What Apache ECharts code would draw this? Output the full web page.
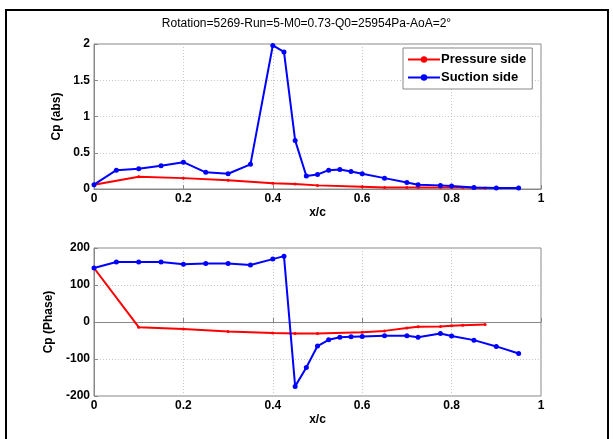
<!DOCTYPE html>
<html>
<head>
<meta charset="utf-8">
<script src="https://cdn.jsdelivr.net/npm/echarts@6/dist/echarts.min.js"></script>
<style>
  html, body { margin: 0; padding: 0; background: #fff; }
  #frame { position: absolute; left: 5px; top: 9px; width: 604px; height: 440px; border: 2px solid #000; border-bottom: none; box-sizing: border-box; }
  #chart { position: absolute; left: 0; top: 0; width: 613px; height: 439px; }
</style>
</head>
<body>
<div id="frame"></div>
<div id="chart"></div>
<script>
// Chordwise stations x/c
const xSuction = [0, 0.05, 0.1, 0.15, 0.2, 0.25, 0.3, 0.35, 0.4, 0.425, 0.45, 0.475, 0.5, 0.525, 0.55, 0.575, 0.6, 0.65, 0.7, 0.725, 0.775, 0.8, 0.85, 0.9, 0.95];
const xPressure = [0, 0.1, 0.2, 0.3, 0.4, 0.45, 0.5, 0.6, 0.65, 0.7, 0.725, 0.775, 0.8, 0.825, 0.875];

// |Cp| amplitude
const absSuction = [0.06, 0.26, 0.28, 0.32, 0.37, 0.23, 0.21, 0.34, 1.98, 1.89, 0.67, 0.18, 0.20, 0.26, 0.27, 0.24, 0.21, 0.15, 0.09, 0.06, 0.05, 0.04, 0.02, 0.015, 0.015];
const absPressure = [0.06, 0.17, 0.15, 0.12, 0.08, 0.07, 0.05, 0.03, 0.02, 0.02, 0.02, 0.02, 0.02, 0.02, 0.015];

// Cp phase (degrees)
const phaseSuction = [146, 162, 162, 162, 156, 158, 158, 154, 170, 178, -174, -123, -65, -48, -41, -40, -39, -37, -37, -41, -31, -38, -49, -66, -85];
const phasePressure = [146, -14, -19, -26, -30, -31, -31, -28, -24, -16, -13, -12, -10, -9, -7];

const xTicks = [0, 0.2, 0.4, 0.6, 0.8, 1];
const absTicks = [0, 0.5, 1, 1.5, 2];
const phaseTicks = [-200, -100, 0, 100, 200];

const titleText = 'Rotation=5269-Run=5-M0=0.73-Q0=25954Pa-AoA=2°';
const seriesNames = ['Pressure side', 'Suction side'];

const pair = (xs, ys) => xs.map((x, i) => [x, ys[i]]);
const FONT = 'Liberation Sans, Arial, sans-serif';
const RED = '#ff0000';
const BLUE = '#0000ff';

function fmt(v) {
  return String(v);
}

function xAxis(gridIndex) {
  return {
    type: 'value', gridIndex, min: xTicks[0], max: xTicks[xTicks.length - 1], interval: 0.2,
    name: 'x/c', nameLocation: 'middle', nameGap: 18,
    nameTextStyle: { fontFamily: FONT, fontWeight: 'bold', fontSize: 12, color: '#000' },
    axisLine: { show: true, lineStyle: { color: '#888', width: 1 } },
    axisTick: { show: true, inside: true, length: 4, lineStyle: { color: '#888' } },
    axisLabel: { fontFamily: FONT, fontWeight: 'bold', fontSize: 12, color: '#000', margin: 4, formatter: fmt },
    splitLine: { show: true, lineStyle: { color: '#c8c8c8', type: [1, 2], width: 1 } }
  };
}

function yAxis(gridIndex, name, min, max, interval) {
  return {
    type: 'value', gridIndex, min, max, interval,
    name, nameLocation: 'middle', nameGap: 26,
    nameTextStyle: { fontFamily: FONT, fontWeight: 'bold', fontSize: 12, color: '#000' },
    axisLine: { show: true, lineStyle: { color: '#888', width: 1 } },
    axisTick: { show: true, inside: true, length: 4, lineStyle: { color: '#888' } },
    axisLabel: { fontFamily: FONT, fontWeight: 'bold', fontSize: 12, color: '#000', margin: 4, formatter: fmt },
    splitLine: { show: true, lineStyle: { color: '#c8c8c8', type: [1, 2], width: 1 } }
  };
}

function line(name, data, color, xIdx, yIdx, symbolSize, symbol) {
  return {
    name, type: 'line', xAxisIndex: xIdx, yAxisIndex: yIdx, data,
    symbol, symbolSize, showSymbol: true,
    lineStyle: { color, width: 2 },
    itemStyle: { color, borderWidth: 0 },
    animation: false, z: name === seriesNames[1] ? 3 : 2
  };
}

const chart = echarts.init(document.getElementById('chart'), null, { renderer: 'canvas' });
chart.setOption({
  animation: false,
  backgroundColor: 'transparent',
  title: {
    text: titleText, left: 'center', top: 13,
    textStyle: { fontFamily: FONT, fontWeight: 'normal', fontSize: 12, color: '#000' }
  },
  legend: {
    data: seriesNames.map(n => ({ name: n })),
    orient: 'vertical', left: 403, top: 48,
    itemWidth: 32, itemHeight: 8, itemGap: 5,
    padding: [5, 6, 5, 4],
    backgroundColor: '#fff', borderColor: '#888', borderWidth: 1,
    textStyle: { fontFamily: FONT, fontWeight: 'bold', fontSize: 13, color: '#000', padding: [0, 0, 0, -4] }
  },
  grid: [
    { left: 94, width: 447, top: 44, height: 145, show: true, borderColor: '#888', borderWidth: 1, backgroundColor: '#fff' },
    { left: 94, width: 447, top: 248, height: 148, show: true, borderColor: '#888', borderWidth: 1, backgroundColor: '#fff' }
  ],
  xAxis: [xAxis(0), xAxis(1)],
  yAxis: [
    yAxis(0, 'Cp (abs)', absTicks[0], absTicks[absTicks.length - 1], 0.5),
    yAxis(1, 'Cp (Phase)', phaseTicks[0], phaseTicks[phaseTicks.length - 1], 100)
  ],
  series: [
    line(seriesNames[0], pair(xPressure, absPressure), RED, 0, 0, 3, 'circle'),
    line(seriesNames[1], pair(xSuction, absSuction), BLUE, 0, 0, 5, 'circle'),
    line(seriesNames[0], pair(xPressure, phasePressure), RED, 1, 1, 3, 'circle'),
    line(seriesNames[1], pair(xSuction, phaseSuction), BLUE, 1, 1, 5, 'circle')
  ]
});
</script>
</body>
</html>
